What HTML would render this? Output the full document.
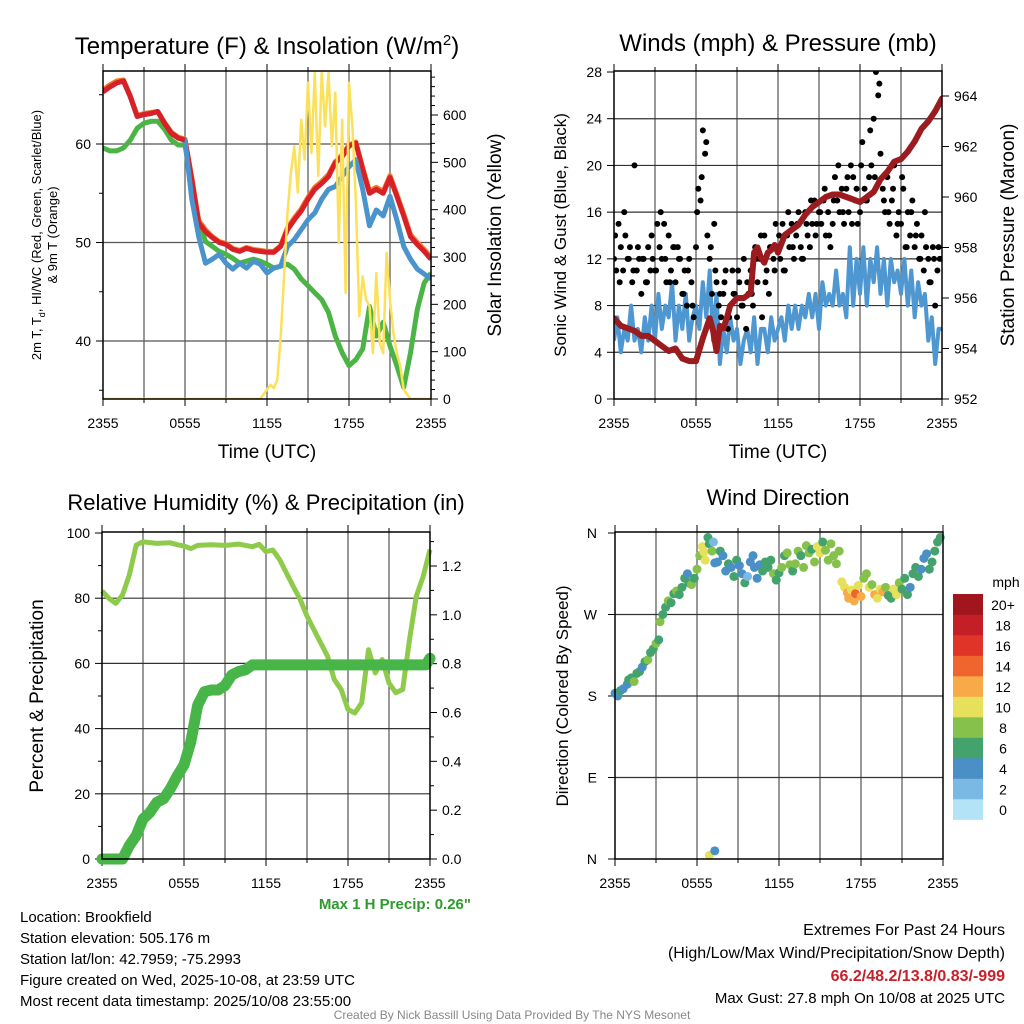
<!DOCTYPE html>
<html><head><meta charset="utf-8"><style>
html,body{margin:0;padding:0;background:#fff;}
svg{display:block;font-family:"Liberation Sans",Arial,sans-serif;}
</style></head><body>
<svg id="root" width="1024" height="1024" viewBox="0 0 1024 1024" xmlns="http://www.w3.org/2000/svg"></svg>
<script>
// ---------- DATA ----------
const xTickLabels = ["2355","0555","1155","1755","2355"];
const tempHours = [0,0.5,1,1.5,2,2.5,3,3.5,4,4.5,5,5.5,6,6.5,7,7.5,8,8.5,9,9.5,10,10.5,11,11.5,12,12.5,13,13.5,14,14.5,15,15.5,16,16.5,17,17.5,18,18.5,19,19.5,20,20.5,21,21.5,22,22.5,23,23.5,24];
const tempRed = [65.3,65.8,66.2,66.4,64.8,62.8,63.0,63.1,63.3,62.1,61.1,60.6,60.4,56.4,52.0,51.1,50.5,50.0,49.8,49.3,49.1,49.4,49.2,49.1,49.0,49.0,49.6,51.3,52.3,53.2,54.4,55.4,56.0,56.7,58.1,58.7,59.8,60.1,57.4,55.0,55.4,55.0,56.6,54.7,52.7,50.6,49.8,49.1,48.3];
const temp9m = [65.5,66.0,66.4,66.5,64.9,62.9,63.1,63.2,63.3,62.2,61.2,60.7,60.5,56.6,52.2,51.3,50.6,50.1,49.9,49.4,49.2,49.5,49.3,49.2,49.1,49.1,49.7,51.5,52.5,53.4,54.6,55.6,56.2,56.9,58.2,58.9,59.9,60.2,57.6,55.2,55.6,55.2,56.8,54.9,52.9,50.8,50.0,49.3,48.5];
const tempHIWC = [65.3,65.8,66.2,66.4,64.8,62.8,63.0,63.1,63.3,62.1,61.1,60.6,60.4,54.4,50.6,47.9,48.3,48.8,47.9,47.3,47.9,47.4,48.1,47.8,46.9,47.4,47.6,49.6,50.3,51.3,52.3,53.0,54.4,55.4,55.7,56.7,57.7,58.4,55.4,51.7,53.3,52.7,54.7,52.3,49.6,48.3,47.3,46.8,46.3];
const dewGreen = [59.6,59.3,59.3,59.6,60.4,61.6,62.1,62.3,62.3,61.5,60.4,59.9,59.9,55.7,52.3,50.1,49.6,49.1,48.8,48.4,47.9,48.1,48.3,48.1,47.8,47.4,47.6,47.8,47.3,46.3,45.6,44.9,44.2,42.9,40.5,38.8,37.5,38.1,39.2,43.5,40.5,41.9,39.5,37.5,35.3,38.8,43.2,45.9,46.9];
const solarHours = [0,11.5,12,12.25,12.5,12.75,13,13.25,13.5,13.75,14,14.25,14.5,14.75,15,15.25,15.5,15.75,16,16.25,16.5,16.75,17,17.25,17.5,17.75,18,18.25,18.5,18.75,19,19.25,19.5,19.75,20,20.25,20.5,20.75,21,21.25,21.5,21.75,22,22.5,24];
const solarVals = [0,0,20,30,23,41,132,259,393,478,534,436,590,506,668,520,689,471,689,576,689,534,647,330,590,224,668,576,421,175,259,210,196,97,266,118,97,309,210,140,97,69,20,0,0];
const tempTicks = [40,50,60];
const solarTicks = [0,100,200,300,400,500,600];

const windSpeed = [5,7,4,6,5,8,5,6,4,7,5,8,5,9,6,8,7,10,5,8,6,9,5,7,8,6,10,7,11,5,9,3,6,4,7,5,6,3,5,6,4,7,3,6,6,4,7,5,6,7,5,8,6,8,6,8,7,9,7,9,6,10,8,9,8,11,8,9,7,13,8,12,9,13,8,12,10,13,9,12,8,12,10,11,9,12,8,11,7,10,8,9,5,7,3,6,6];
const gustA = [12,11,15,13,11,14,12,13,10,20,11,12,9,12,10,13,11,12,11,15,13,12,15,10,14,11,13,10,13,12,9,11,8,12,10,7,13,18,17,23,21,14,12,9,15,10,8,7,9,11,6,8,11,9,7,10,8,12,6,9,11,8,13,10,12,7,14,11,9,13,12,15,13,12,15,11,14,13,15,12,14,16,13,12,16,14,13,15,17,15,16,15,17,14,16,13,15,19,17,16,18,15,18,16,20,19,17,15,16,22,18,17,19,20,24,28,26,21,18,16,19,15,17,20,14,16,15,18,13,16,14,17,13,15,12,14,11,13,12,10,13,8,11,12,12];
const gustB = [14,10,16,12,11,13,12,10,14,11,16,12,10,13,12,9,11,8,16,19,22,13,11,9,10,7,9,11,8,10,9,12,14,10,13,11,14,11,16,13,15,12,15,17,14,16,18,14,17,20,16,19,15,18,20,17,23,19,27,17,16,18,15,19,13,16,14,12,16,10,12,13];
const pressHours = [0,0.5,1,1.5,2,2.5,3,3.5,4,4.5,5,5.5,6,6.5,7,7.25,7.5,7.75,8,8.25,8.5,9,9.5,10,10.25,10.5,10.75,11,11.25,11.5,11.75,12,12.5,13,13.5,14,14.5,15,15.5,16,16.5,17,17.5,18,18.5,19,19.5,20,20.5,21,21.5,22,22.5,23,23.5,24];
const pressVals = [955.2,954.9,954.8,954.7,954.5,954.5,954.3,954.1,953.9,954.0,953.6,953.5,953.5,954.4,955.2,954.7,953.9,954.9,954.8,955.2,955.7,956.0,956.0,956.2,957.8,958.0,957.6,957.4,957.8,957.9,958.1,957.8,958.5,958.7,958.9,959.3,959.6,959.8,960.0,960.1,960.1,960.0,959.9,959.8,960.0,960.2,960.7,961.0,961.4,961.5,961.8,962.2,962.7,963.0,963.4,963.9];
const windTicks = [0,4,8,12,16,20,24,28];
const pressTicks = [952,954,956,958,960,962,964];

const rhHours = [0,0.5,1,1.5,2,2.5,3,4,5,5.5,6,6.5,7,8,9,10,11,11.5,12,12.5,13,13.5,14,14.5,15,15.5,16,16.5,17,17.5,18,18.5,19,19.5,20,20.5,21,21.5,22,22.5,23,23.5,24];
const rhVals = [82.2,80.0,78.4,81.0,87.1,96.3,97.3,96.8,97.0,96.4,96.0,95.2,96.2,96.4,96.2,96.6,95.8,96.5,94.3,94.8,91.8,87.7,83.6,79.6,74.5,70.4,66.3,62.2,55.0,52.0,45.9,44.8,47.9,64.2,57.1,61.2,54.0,51.0,52.0,67.3,80.6,86.7,94.9];
const precipHours = [0,1.5,2,2.5,3,3.5,4,4.5,5,5.5,6,6.5,7,7.5,8,8.5,9,9.5,10,10.5,11,11.5,14,18,23.7,24];
const precipVals = [0,0,0.055,0.096,0.164,0.19,0.232,0.246,0.287,0.34,0.385,0.48,0.63,0.685,0.692,0.692,0.71,0.754,0.768,0.775,0.795,0.795,0.795,0.795,0.795,0.822];
const rhTicks = [0,20,40,60,80,100];
const precipTicks = [0.0,0.2,0.4,0.6,0.8,1.0,1.2];

const dirTime = [0,0.2,0.4,0.6,0.9,1.0,1.2,1.4,1.6,1.8,2.0,2.2,2.4,2.6,2.8,3.0,3.2,3.3,3.5,3.7,3.9,4.1,4.3,4.5,4.7,4.9,5.1,5.3,5.4,5.6,5.8,6.0,6.2,6.4,6.5,6.6,6.8,6.9,7.1,7.2,7.3,7.5,7.7,7.9,8.1,8.3,8.5,8.7,8.9,9.1,9.3,9.5,9.7,9.9,10.1,10.2,10.4,10.6,10.8,11.0,11.2,11.4,11.6,11.8,12.0,12.2,12.4,12.6,12.8,13.0,13.2,13.4,13.6,13.8,14.0,14.2,14.4,14.6,14.8,15.0,15.2,15.4,15.6,15.8,16.0,16.2,16.4,16.6,16.8,17.0,17.1,17.3,17.5,17.6,17.8,18.0,18.2,18.4,18.6,18.8,19.0,19.2,19.4,19.6,19.8,20.0,20.2,20.4,20.6,20.8,21.0,21.2,21.4,21.6,21.8,22.0,22.2,22.4,22.6,22.8,23.0,23.2,23.4,23.6,23.8,6.9,7.3];
const dirDeg = [183,180,186,188,193,198,200,196,205,207,212,218,220,228,232,238,242,262,270,278,285,283,293,296,292,300,310,315,305,303,310,320,335,345,339,330,355,348,340,350,327,328,340,335,318,326,322,312,330,324,315,305,312,328,335,322,310,325,318,328,322,330,315,308,316,322,335,338,325,318,326,340,335,322,346,338,342,328,345,338,350,341,330,348,335,326,340,306,300,294,288,297,285,293,302,290,310,315,300,303,292,288,298,295,300,291,288,298,292,305,298,310,292,300,315,322,312,320,332,337,320,328,340,350,355,4,9];
const dirSpd = [4,5,6,5,4,6,6,8,6,6,5,6,8,7,6,8,7,8,6,6,8,6,6,8,6,6,6,5,6,8,7,8,8,10,10,10,6,6,8,3,4,4,6,4,5,6,4,6,6,4,4,6,3,4,4,4,5,4,6,6,6,7,8,6,7,8,7,8,8,6,8,8,7,9,8,8,6,8,10,10,7,8,9,8,8,8,9,10,11,12,12,10,12,14,11,12,8,8,10,8,12,11,10,12,8,7,6,10,10,8,6,6,6,5,6,6,6,4,5,4,6,6,6,6,6,10,4];
const dirTickLabels = ["N","E","S","W","N"];
const cbarLabels = ["0","2","4","6","8","10","12","14","16","18","20+"];
const cbarColors = ["#b3e3f7","#7ab9e4","#4a8fc6","#44a36d","#86c24b","#e6e05a","#f8a948","#f0642d","#e03428","#c41e26","#a0161c"];

// ---------- HELPERS ----------
const NS="http://www.w3.org/2000/svg";
const root=document.getElementById('root');
function mk(tag,attrs,parent){const e=document.createElementNS(NS,tag);for(const k in attrs)e.setAttribute(k,attrs[k]);(parent||root).appendChild(e);return e;}
function txt(s,x,y,size,anchor,parent,extra){const t=mk('text',Object.assign({x:x,y:y,'font-size':size,'text-anchor':anchor||'middle',fill:'#000'},extra||{}),parent);t.textContent=s;return t;}
function lin(d0,d1,r0,r1){return v=>r0+(v-d0)*(r1-r0)/(d1-d0);}
function pathD(xs,ys,fx,fy){return xs.map((h,i)=>(i?'L':'M')+fx(h).toFixed(1)+' '+fy(ys[i]).toFixed(1)).join(' ');}

function frame(g,P,name){
  for(let h=3;h<24;h+=3){const x=P.x(h);const l=mk('line',{x1:x,y1:P.t,x2:x,y2:P.b,stroke:'#555','stroke-width':1.2},g);
    
    }
  for(let h=0;h<=24;h+=3){const x=P.x(h);const len=(h%6===0)?7:4;mk('line',{x1:x,y1:P.b,x2:x,y2:P.b+len,stroke:'#000'},g);mk('line',{x1:x,y1:P.t,x2:x,y2:P.t-len,stroke:'#000'},g);}
  xTickLabels.forEach((s,i)=>{const t=txt(s,P.x(i*6),P.b+29,14,'middle',g);
    
    });
}
function box(g,P){const r=mk('rect',{x:P.l,y:P.t,width:P.r-P.l,height:P.b-P.t,fill:'none',stroke:'#000','stroke-width':1.5},g);
  
  }

// ---------- PANEL 1 ----------
(function(){
  const g=mk('g',{});  
  const P={l:103,r:431,t:71,b:399};P.x=lin(0,24,P.l,P.r);
  const fy=lin(60,50,144,242.5); const fs=lin(0,600,399,115);
  frame(g,P,'t');
  tempTicks.forEach(v=>{const y=fy(v);mk('line',{x1:P.l,y1:y,x2:P.r,y2:y,stroke:'#555','stroke-width':1.2},g);mk('line',{x1:P.l-7,y1:y,x2:P.l,y2:y,stroke:'#000'},g);
    const t=txt(String(v),P.l-12,y+5,14,'end',g);  });
  [35,45,55,65].forEach(v=>{const y=fy(v);mk('line',{x1:P.l-4,y1:y,x2:P.l,y2:y,stroke:'#000'},g);});
  solarTicks.forEach(v=>{const y=fs(v);mk('line',{x1:P.r,y1:y,x2:P.r+7,y2:y,stroke:'#000'},g);
    const t=txt(String(v),P.r+12,y+5,14,'start',g);  });
  for(let v=20;v<700;v+=20){if(v%100){const y=fs(v);mk('line',{x1:P.r,y1:y,x2:P.r+4,y2:y,stroke:'#000'},g);}}
  const cp=mk('clipPath',{id:'c1'},g);mk('rect',{x:P.l,y:P.t,width:P.r-P.l,height:P.b-P.t},cp);
  const s=mk('g',{'clip-path':'url(#c1)'},g);
  let p;
  p=mk('path',{d:pathD(tempHours,dewGreen,P.x,fy),fill:'none',stroke:'#4ab545','stroke-width':5,'stroke-linejoin':'round'},s);
   
  p=mk('path',{d:pathD(tempHours,temp9m,P.x,fy),fill:'none',stroke:'#f47d2a','stroke-width':5,'stroke-linejoin':'round'},s);
   
  p=mk('path',{d:pathD(tempHours,tempRed,P.x,fy),fill:'none',stroke:'#d92027','stroke-width':5,'stroke-linejoin':'round'},s);
   
  p=mk('path',{d:pathD(tempHours,tempHIWC,P.x,fy),fill:'none',stroke:'#4a93cc','stroke-width':5,'stroke-linejoin':'round'},s);
   
  p=mk('path',{d:pathD(tempHours.slice(0,13),tempRed.slice(0,13),P.x,fy),fill:'none',stroke:'#d92027','stroke-width':5,'stroke-linejoin':'round'},s);
  p=mk('path',{d:pathD(solarHours,solarVals,P.x,fs),fill:'none',stroke:'#fbe15a','stroke-width':2.5,'stroke-linejoin':'round'},s);
   
  box(g,P);
  let t=txt('',267,54,24,'middle',g); t.innerHTML='Temperature (F) &amp; Insolation (W/m<tspan dy="-9" font-size="15">2</tspan><tspan dy="9">)</tspan>';
   
  t=txt('Time (UTC)',267,458,19,'middle',g);  
  t=txt('',0,0,13,'middle',g,{transform:'translate(41,235) rotate(-90)'}); t.innerHTML='2m T, T<tspan dy="4" font-size="9">d</tspan><tspan dy="-4">, HI/WC (Red, Green, Scarlet/Blue)</tspan>';
   
  t=txt('& 9m T (Orange)',0,0,13,'middle',g,{transform:'translate(57,235) rotate(-90)'});
  t=txt('Solar Insolation (Yellow)',0,0,19,'middle',g,{transform:'translate(501,235) rotate(-90)'});
   
})();

// ---------- PANEL 2 ----------
(function(){
  const g=mk('g',{});  
  const P={l:614,r:942,t:71,b:399};P.x=lin(0,24,P.l,P.r);
  const fy=lin(0,28,399,72); const fp=lin(952,964,399,96);
  frame(g,P,'w');
  windTicks.forEach(v=>{const y=fy(v);if(v>0&&v<28)mk('line',{x1:P.l,y1:y,x2:P.r,y2:y,stroke:'#333','stroke-width':1.2},g);mk('line',{x1:P.l-7,y1:y,x2:P.l,y2:y,stroke:'#000'},g);
    const t=txt(String(v),P.l-12,y+5,14,'end',g);  });
  pressTicks.forEach(v=>{const y=fp(v);mk('line',{x1:P.r,y1:y,x2:P.r+7,y2:y,stroke:'#000'},g);
    const t=txt(String(v),P.r+12,y+5,14,'start',g);  });
  const cp=mk('clipPath',{id:'c2'},g);mk('rect',{x:P.l,y:P.t,width:P.r-P.l,height:P.b-P.t},cp);
  const s=mk('g',{'clip-path':'url(#c2)'},g);
  const wh=windSpeed.map((v,i)=>i*0.25);
  let p=mk('path',{d:pathD(wh,windSpeed,P.x,fy),fill:'none',stroke:'#4f97d1','stroke-width':4,'stroke-linejoin':'round'},s);
   
  gustA.forEach((v,i)=>{const c=mk('circle',{cx:P.x(i/6),cy:fy(v),r:3,fill:'#000'},s);
    
    });
  gustB.forEach((v,i)=>{const c=mk('circle',{cx:P.x(i/3+1/12),cy:fy(v),r:3,fill:'#000'},s);
    
    });
  p=mk('path',{d:pathD(pressHours,pressVals,P.x,fp),fill:'none',stroke:'#9b1b1e','stroke-width':6,'stroke-linejoin':'round','stroke-linecap':'round'},s);
   
  box(g,P);
  let t=txt('Winds (mph) & Pressure (mb)',778,51,24,'middle',g);  
  t=txt('Time (UTC)',778,458,19,'middle',g);  
  t=txt('Sonic Wind & Gust (Blue, Black)',0,0,17,'middle',g,{transform:'translate(566,235) rotate(-90)'});  
  t=txt('Station Pressure (Maroon)',0,0,19,'middle',g,{transform:'translate(1014,235) rotate(-90)'});  
})();

// ---------- PANEL 3 ----------
(function(){
  const g=mk('g',{});  
  const P={l:102,r:430,t:532,b:859};P.x=lin(0,24,P.l,P.r);
  const fy=lin(0,100,859,533); const fp=lin(0,1.2,859,566);
  frame(g,P,'h');
  rhTicks.forEach(v=>{const y=fy(v);if(v>0&&v<100)mk('line',{x1:P.l,y1:y,x2:P.r,y2:y,stroke:'#333','stroke-width':1.2},g);mk('line',{x1:P.l-7,y1:y,x2:P.l,y2:y,stroke:'#000'},g);
    const t=txt(String(v),P.l-12,y+5,14,'end',g);  });
  for(let v=10;v<100;v+=20){const y=fy(v);mk('line',{x1:P.l-4,y1:y,x2:P.l,y2:y,stroke:'#000'},g);}
  precipTicks.forEach(v=>{const y=fp(v);mk('line',{x1:P.r,y1:y,x2:P.r+7,y2:y,stroke:'#000'},g);
    const t=txt(v.toFixed(1),P.r+12,y+5,14,'start',g);  });
  for(let v=0.1;v<1.3;v+=0.2){const y=fp(v);mk('line',{x1:P.r,y1:y,x2:P.r+4,y2:y,stroke:'#000'},g);}
  let p=mk('path',{d:pathD(rhHours,rhVals,P.x,fy),fill:'none',stroke:'#8fcb4b','stroke-width':5,'stroke-linejoin':'round'},g);
   
  p=mk('path',{d:pathD(precipHours,precipVals,P.x,fp),fill:'none',stroke:'#47b548','stroke-width':11,'stroke-linejoin':'round','stroke-linecap':'round'},g);
   
  box(g,P);
  let t=txt('Relative Humidity (%) & Precipitation (in)',266,510,22,'middle',g);  
  t=txt('Percent & Precipitation',0,0,19,'middle',g,{transform:'translate(43,696) rotate(-90)'});  
  t=txt('Max 1 H Precip: 0.26"',471,909,15,'end',g,{fill:'#2e9a2e','font-weight':'bold'});  
})();

// ---------- PANEL 4 ----------
(function(){
  const g=mk('g',{});  
  const P={l:615,r:943,t:532,b:859};P.x=lin(0,24,P.l,P.r);
  const fy=lin(0,360,859,533);
  frame(g,P,'d');
  dirTickLabels.forEach((s,i)=>{const y=fy(i*90);if(i>0&&i<4)mk('line',{x1:P.l,y1:y,x2:P.r,y2:y,stroke:'#333','stroke-width':1.2},g);mk('line',{x1:P.l-7,y1:y,x2:P.l,y2:y,stroke:'#000'},g);
    const t=txt(s,P.l-18,y+5,14,'end',g);  });
  dirTime.forEach((h,i)=>{const idx=Math.min(10,Math.floor(dirSpd[i]/2));
    const c=mk('circle',{cx:P.x(h),cy:fy(dirDeg[i]),r:4.5,fill:cbarColors[idx]},g);
    
    });
  box(g,P);
  let t=txt('Wind Direction',778,505,22,'middle',g);  
  t=txt('Direction (Colored By Speed)',0,0,17,'middle',g,{transform:'translate(568,696) rotate(-90)'});  
  const cb=mk('g',{},g);  
  const top=594,bh=20.5;
  cbarLabels.forEach((s,i)=>{const y=top+(10-i)*bh;
    const r=mk('rect',{x:953,y:y,width:30,height:bh+0.3,fill:cbarColors[i]},cb);
    
    
    const t=txt(s,1003,y+16,14,'middle',cb);  });
  t=txt('mph',1006,587,14,'middle',cb);  
})();

// ---------- FOOTER TEXT ----------
(function(){
  const g=mk('g',{});  
  const lines=["Location: Brookfield","Station elevation: 505.176 m","Station lat/lon: 42.7959; -75.2993","Figure created on Wed, 2025-10-08, at 23:59 UTC","Most recent data timestamp: 2025/10/08 23:55:00"];
  lines.forEach((s,i)=>{const t=txt(s,20,922+i*21,15,'start',g);  });
  const g2=mk('g',{});  
  let t=txt('Extremes For Past 24 Hours',1005,935,16,'end',g2);  
  t=txt('(High/Low/Max Wind/Precipitation/Snow Depth)',1005,958,16,'end',g2);  
  t=txt('66.2/48.2/13.8/0.83/-999',1005,981,16,'end',g2,{fill:'#c8202a','font-weight':'bold'});  
  t=txt('Max Gust: 27.8 mph On 10/08 at 2025 UTC',1005,1003,15,'end',g2);  
  t=txt('Created By Nick Bassill Using Data Provided By The NYS Mesonet',512,1019,12,'middle',null,{fill:'#888'});  
})();
</script>
</body></html>
